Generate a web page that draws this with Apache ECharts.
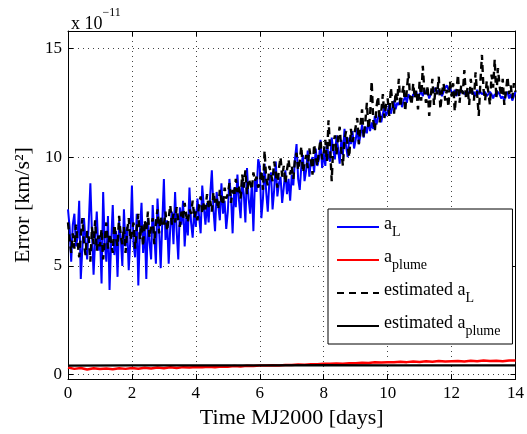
<!DOCTYPE html>
<html><head><meta charset="utf-8">
<script src="https://cdn.jsdelivr.net/npm/echarts@6/dist/echarts.min.js"></script>
<style>html,body{margin:0;padding:0;background:#fff}#c{width:527px;height:434px}</style>
</head><body><div id="c"></div>
<script>
// x step for a_L and estimated a_L: 0.05 days
const stepL = 0.05;
const aL = [
7.6,6.8,5.2,6.9,7.4,5.9,6.3,8.0,4.4,5.8,7.2,6.1,5.3,7.0,8.8,6.5,4.6,6.2,7.5,5.7,
6.4,4.2,8.4,6.0,5.2,7.3,3.9,6.1,7.8,5.5,6.6,4.5,7.1,6.3,5.0,7.6,5.9,6.8,4.8,6.2,
8.7,6.0,5.4,7.4,4.1,6.6,7.9,5.6,6.9,4.4,7.2,6.1,5.3,7.8,6.4,5.1,8.1,6.7,4.9,7.0,
9.0,6.2,7.1,5.1,6.8,7.5,6.0,8.4,6.6,5.3,7.7,6.9,8.0,5.9,7.2,6.4,8.6,7.0,6.3,7.6,
6.8,8.1,7.3,6.5,8.7,7.7,6.9,7.9,7.0,8.3,9.4,7.6,6.6,8.4,7.8,7.1,8.8,7.4,8.0,6.7,
7.5,9.0,8.2,6.5,8.6,7.7,9.2,8.0,7.2,8.9,8.3,7.0,9.5,8.1,7.4,8.8,6.6,9.0,8.4,9.9,
9.6,7.2,8.1,9.7,8.4,7.5,8.9,9.3,7.6,8.5,9.8,8.2,8.8,9.1,7.9,8.6,9.4,8.3,9.0,8.0,
9.2,8.7,9.9,10.6,9.0,8.5,9.6,10.1,8.9,9.4,10.3,9.1,9.8,10.0,9.3,10.4,9.6,9.9,10.8,9.5,
10.2,9.6,10.7,10.0,9.8,10.9,10.3,9.9,11.0,10.4,9.7,10.8,10.1,11.3,10.5,10.0,10.9,10.6,11.2,10.4,
10.8,11.3,10.6,11.0,11.5,10.9,11.4,11.1,11.7,11.2,11.6,11.3,11.9,11.5,11.8,12.1,11.6,12.0,12.3,11.9,
12.1,12.4,12.0,12.3,12.6,12.2,12.5,12.4,12.7,12.3,12.6,12.8,12.5,12.9,12.7,12.6,12.9,12.8,13.0,12.7,
12.9,13.0,12.8,13.1,12.9,13.0,12.7,12.9,13.1,13.0,13.2,12.9,13.1,13.0,12.8,13.0,13.2,13.3,13.1,13.2,
13.0,12.9,13.1,12.8,13.0,12.9,13.1,13.0,12.9,13.0,12.8,13.0,13.1,12.9,13.0,12.8,13.1,12.9,13.0,12.9,
12.9,13.0,12.8,12.9,13.0,12.9,12.7,12.9,12.8,13.0,12.9,12.7,12.8,12.6,12.9,13.0,12.7,12.9,12.6,12.8,
13.0
];
const estAL = [
7.0,6.2,5.6,6.5,5.8,6.9,6.1,5.4,6.4,7.2,6.0,5.5,6.6,6.3,5.2,6.8,6.0,7.1,5.7,6.4,
5.9,6.7,5.3,6.2,7.0,5.8,6.5,6.1,5.6,6.9,6.3,5.9,7.3,6.4,6.0,6.8,5.6,6.6,7.2,6.2,
6.5,7.0,5.8,6.7,7.4,6.2,6.9,5.9,7.1,6.6,7.5,6.3,6.8,7.2,6.0,7.0,7.6,6.5,7.3,6.8,
6.9,7.5,6.6,7.2,7.8,6.9,7.4,7.0,7.7,7.1,6.8,7.5,7.2,7.9,7.3,7.0,7.6,7.4,8.0,7.2,
7.5,7.1,7.8,8.2,7.4,7.9,7.6,8.3,7.7,8.0,7.5,8.4,7.9,8.1,7.6,8.5,8.0,7.8,8.6,8.1,
8.3,8.8,7.9,8.5,8.2,9.0,8.4,8.7,8.1,9.2,8.6,9.4,8.3,9.0,8.8,8.5,9.3,8.9,9.1,8.6,
8.8,9.4,8.5,10.3,9.0,8.7,9.6,9.2,8.9,9.8,9.3,8.6,9.5,10.0,9.1,9.6,8.8,9.4,9.9,9.2,
9.6,9.0,9.9,10.2,9.4,9.8,10.5,9.3,9.7,10.1,9.5,10.4,9.9,9.2,10.6,10.0,9.6,10.3,10.8,9.9,
10.2,10.8,9.8,11.7,10.4,8.9,10.6,11.0,10.1,10.9,11.4,10.3,9.6,10.8,11.2,10.5,10.0,11.3,10.7,11.0,
11.0,11.8,10.6,11.5,12.2,10.9,11.6,12.5,11.3,11.9,13.5,11.7,11.2,12.3,12.8,11.6,12.1,12.9,11.8,12.4,
12.7,11.9,13.2,12.5,12.0,13.0,12.6,13.6,12.3,12.9,13.3,12.1,13.1,13.9,12.8,12.4,13.4,12.7,13.1,12.2,
13.5,12.6,14.2,13.0,12.5,13.3,11.9,12.8,13.6,12.4,13.2,12.9,13.7,12.2,13.0,13.4,12.6,13.1,12.3,13.5,
12.8,13.4,12.1,13.0,13.8,12.5,13.3,12.9,14.0,12.7,13.2,12.4,13.6,13.0,12.6,13.9,12.9,11.9,13.4,14.7,
13.1,12.6,13.5,13.0,12.4,13.8,13.2,14.5,12.7,14.1,13.3,12.8,13.6,12.4,13.0,13.7,12.9,13.3,12.7,13.4,
13.0
];
// a_plume, step 0.2 days
const stepPlume = 0.2;
const aPlume = [
0.33,0.27,0.31,0.24,0.30,0.26,0.29,0.25,0.30,0.27,0.31,
0.28,0.32,0.29,0.33,0.30,0.34,0.31,0.35,0.33,0.36,
0.34,0.37,0.35,0.38,0.37,0.40,0.38,0.41,0.40,0.42,
0.42,0.44,0.43,0.45,0.45,0.47,0.46,0.48,0.48,0.50,
0.50,0.52,0.51,0.53,0.53,0.55,0.54,0.57,0.56,0.58,
0.57,0.60,0.58,0.61,0.59,0.62,0.60,0.63,0.61,0.62,
0.63,0.61,0.64,0.62,0.65,0.63,0.64,0.62,0.65,0.66
];
// estimated a_plume, step 2 days
const stepEstPlume = 2;
const estPlume = [0.42,0.43,0.43,0.43,0.44,0.43,0.43,0.43];
const xTicks = [0,2,4,6,8,10,12,14];
const yTicks = [0,5,10,15];
const seriesNames = ['a_L','a_plume','estimated a_L','estimated a_plume'];

const toPairs = (arr, step) => arr.map((v,i)=>[+(i*step).toFixed(2), v]);
const FONT = 'Liberation Serif';

const chart = echarts.init(document.getElementById('c'), null, {renderer:'canvas'});
const gridLine = {show:true, lineStyle:{color:'#444', type:[1,4], width:1}};
const option = {
  animation:false,
  backgroundColor:'#fff',
  title:{
    text:'{a|x 10}{b|\u221211}',
    left:66, top:2,
    textStyle:{fontWeight:'normal', rich:{
      a:{fontFamily:FONT,fontSize:18,fontWeight:'normal',color:'#000',verticalAlign:'bottom',lineHeight:26},
      b:{fontFamily:FONT,fontSize:12,fontWeight:'normal',color:'#000',verticalAlign:'top',lineHeight:26}
    }}
  },
  grid:{left:68, right:10, top:31, bottom:52, containLabel:false},
  xAxis:[{
    type:'value', min:xTicks[0], max:xTicks[xTicks.length-1], interval:2, position:'bottom',
    axisLine:{show:true,onZero:false,lineStyle:{color:'#000',width:1}},
    axisTick:{show:true,inside:true,length:5,lineStyle:{color:'#000'}},
    axisLabel:{fontFamily:FONT,fontSize:17,color:'#000',margin:6},
    splitLine:gridLine,
    name:'Time MJ2000 [days]', nameLocation:'middle', nameGap:19,
    nameTextStyle:{fontFamily:FONT,fontSize:22,color:'#000'}
  },{
    type:'value', min:0, max:14, interval:2, position:'top',
    axisLine:{show:true,onZero:false,lineStyle:{color:'#000',width:1}},
    axisTick:{show:true,inside:true,length:5,lineStyle:{color:'#000'}},
    axisLabel:{show:false}, splitLine:{show:false}
  }],
  yAxis:[{
    type:'value', min:-0.2, max:15.8, position:'left',
    axisLine:{show:true,onZero:false,lineStyle:{color:'#000',width:1}},
    axisTick:{show:true,inside:true,length:5,lineStyle:{color:'#000'},customValues:yTicks},
    axisLabel:{fontFamily:FONT,fontSize:17,color:'#000',margin:6,customValues:yTicks},
    splitLine:gridLine,
    name:'Error [km/s\u00b2]', nameLocation:'middle', nameGap:25,
    nameTextStyle:{fontFamily:FONT,fontSize:22,color:'#000'}
  },{
    type:'value', min:-0.2, max:15.8, position:'right',
    axisLine:{show:true,onZero:false,lineStyle:{color:'#000',width:1}},
    axisTick:{show:true,inside:true,length:5,lineStyle:{color:'#000'},customValues:yTicks},
    axisLabel:{show:false,customValues:yTicks}, splitLine:{show:false}
  }],
  legend:{
    data:seriesNames,
    orient:'vertical', left:328, top:209,
    itemWidth:42, itemHeight:10, itemGap:9,
    padding:[6,12,6,8],
    itemStyle:{opacity:0},
    backgroundColor:'#fff', borderColor:'#000', borderWidth:1,
    textStyle:{
      color:'#000',
      rich:{
        n:{fontFamily:FONT,fontSize:18,color:'#000',verticalAlign:'top',lineHeight:24},
        s:{fontFamily:FONT,fontSize:14,color:'#000',verticalAlign:'bottom',lineHeight:24}
      }
    },
    formatter:function(name){
      const m = {
        'a_L':'{n|a}{s|L}',
        'a_plume':'{n|a}{s|plume}',
        'estimated a_L':'{n|estimated a}{s|L}',
        'estimated a_plume':'{n|estimated a}{s|plume}'
      };
      return m[name];
    }
  },
  series:[
    {name:seriesNames[0], type:'line', data:toPairs(aL,stepL), symbol:'none',
      lineStyle:{color:'#0000ff',width:2}, itemStyle:{color:'#0000ff'}},
    {name:seriesNames[1], type:'line', data:toPairs(aPlume,stepPlume), symbol:'none',
      lineStyle:{color:'#ff0000',width:2.5}, itemStyle:{color:'#ff0000'}},
    {name:seriesNames[2], type:'line', data:toPairs(estAL,stepL), symbol:'none',
      lineStyle:{color:'#000',width:2.4,type:[7,5]}, itemStyle:{color:'#000'}},
    {name:seriesNames[3], type:'line', data:toPairs(estPlume,stepEstPlume), symbol:'none',
      lineStyle:{color:'#000',width:2.2}, itemStyle:{color:'#000'}}
  ]
};
chart.setOption(option);
</script></body></html>
